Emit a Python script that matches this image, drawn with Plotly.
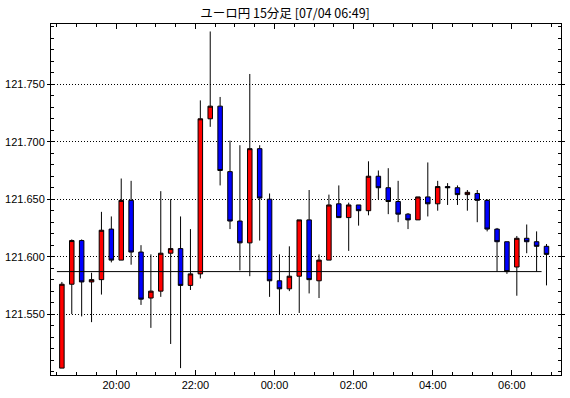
import pandas as pd
import plotly.graph_objects as go

# 15-minute candles, start times (JST)
times = pd.date_range("2019-07-03 18:30", periods=50, freq="15min")

opens = [121.503, 121.576, 121.614, 121.578, 121.580, 121.624, 121.597, 121.649, 121.604, 121.564,
         121.570, 121.603, 121.607, 121.575, 121.585, 121.720, 121.731, 121.674, 121.631, 121.612,
         121.694, 121.650, 121.579, 121.572, 121.583, 121.632, 121.579, 121.597, 121.646, 121.634,
         121.645, 121.640, 121.670, 121.660, 121.648, 121.637, 121.632, 121.652, 121.646, 121.661,
         121.660, 121.654, 121.655, 121.649, 121.624, 121.613, 121.591, 121.616, 121.613, 121.609]
highs = [121.578, 121.615, 121.615, 121.586, 121.639, 121.635, 121.668, 121.666, 121.610, 121.602,
         121.657, 121.650, 121.635, 121.624, 121.736, 121.796, 121.739, 121.701, 121.697, 121.759,
         121.697, 121.655, 121.602, 121.609, 121.632, 121.658, 121.602, 121.654, 121.662, 121.647,
         121.645, 121.683, 121.675, 121.677, 121.666, 121.638, 121.652, 121.682, 121.666, 121.664,
         121.662, 121.658, 121.658, 121.650, 121.625, 121.613, 121.618, 121.628, 121.622, 121.611]
lows = [121.503, 121.550, 121.548, 121.543, 121.567, 121.595, 121.597, 121.593, 121.558, 121.538,
        121.565, 121.524, 121.503, 121.571, 121.581, 121.713, 121.662, 121.624, 121.588, 121.583,
        121.614, 121.565, 121.550, 121.570, 121.551, 121.568, 121.564, 121.597, 121.634, 121.605,
        121.627, 121.636, 121.650, 121.637, 121.630, 121.624, 121.632, 121.635, 121.640, 121.645,
        121.645, 121.640, 121.630, 121.622, 121.587, 121.585, 121.566, 121.603, 121.587, 121.575]
closes = [121.576, 121.614, 121.578, 121.580, 121.623, 121.597, 121.649, 121.604, 121.563, 121.570,
          121.603, 121.607, 121.575, 121.585, 121.720, 121.731, 121.675, 121.631, 121.612, 121.694,
          121.651, 121.579, 121.572, 121.583, 121.632, 121.580, 121.597, 121.645, 121.634, 121.645,
          121.640, 121.670, 121.660, 121.648, 121.637, 121.632, 121.652, 121.646, 121.661, 121.660,
          121.654, 121.656, 121.649, 121.624, 121.613, 121.587, 121.616, 121.613, 121.609, 121.602]

ref_level = 121.587
y_tick_vals = [121.55, 121.60, 121.65, 121.70, 121.75]
y_minor_vals = [round(121.50 + 0.01 * i, 2) for i in range(31)]
title_text = "ユーロ円 15分足 [07/04 06:49]"

centers = times + pd.Timedelta(minutes=7.5)

fig = go.Figure(go.Candlestick(
    x=centers, open=opens, high=highs, low=lows, close=closes,
    increasing=dict(fillcolor="#ff0000", line=dict(color="#000000", width=1)),
    decreasing=dict(fillcolor="#0000ff", line=dict(color="#000000", width=1)),
    hoverinfo="x+y",
))

fig.add_shape(type="line", xref="x", yref="y",
              x0=times[0], x1=times[-1], y0=ref_level, y1=ref_level,
              line=dict(color="#000000", width=1))

fig.update_layout(
    width=570, height=398,
    margin=dict(l=49, r=5, t=24, b=23),
    paper_bgcolor="white", plot_bgcolor="white",
    showlegend=False,
    boxgap=0.35,
    title=dict(text=title_text, x=0.5, xanchor="center", y=0.965, yanchor="middle",
               font=dict(family="Noto Sans CJK JP", size=12.5, color="#000000")),
    font=dict(family="Liberation Sans", size=11, color="#000000"),
    xaxis=dict(
        type="date",
        range=["2019-07-03 18:21:00", "2019-07-04 07:14:30"],
        rangeslider=dict(visible=False),
        tickformat="%H:%M", tick0="2019-07-03 20:00", dtick=7200000,
        ticks="inside", ticklen=5, tickcolor="#000000",
        showgrid=False, zeroline=False,
        showline=True, linecolor="#000000", linewidth=1, mirror="allticks",
        minor=dict(ticks="inside", ticklen=3, tickcolor="#000000", dtick=1800000,
                   tick0="2019-07-03 20:00", showgrid=False),
        tickfont=dict(family="Liberation Sans", size=11, color="#000000"),
    ),
    yaxis=dict(
        range=[121.497, 121.8025],
        tickmode="array", tickvals=y_tick_vals, tickformat=".3f",
        ticks="outside", ticklen=3, tickcolor="#000000",
        showgrid=True, gridcolor="#000000", gridwidth=1, griddash="1px,2px",
        zeroline=False,
        showline=True, linecolor="#000000", linewidth=1, mirror="allticks",
        minor=dict(ticks="inside", ticklen=3, tickcolor="#000000",
                   tickmode="array", tickvals=y_minor_vals, showgrid=False),
        tickfont=dict(family="Liberation Sans", size=11, color="#000000"),
    ),
)

fig.write_html("out.html")
